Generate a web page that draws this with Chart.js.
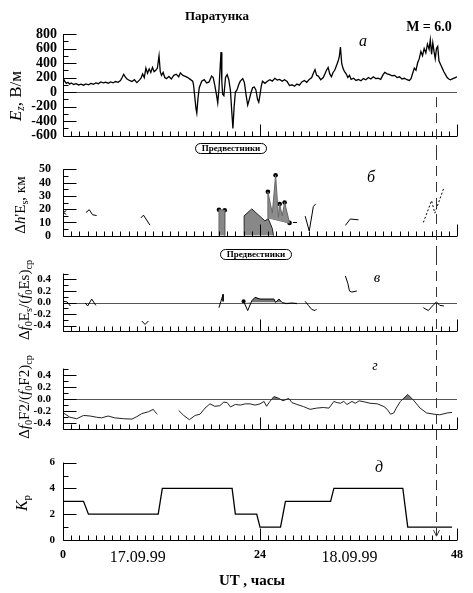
<!DOCTYPE html>
<html>
<head>
<meta charset="utf-8">
<script src="https://cdn.jsdelivr.net/npm/chart.js@4.4.1/dist/chart.umd.min.js"></script>
<style>
body{margin:0;background:#fff;}
#page{position:relative;width:473px;height:593px;overflow:hidden;background:#fff;font-family:'Liberation Serif','Times New Roman',serif;color:#000;}
canvas{position:absolute;left:0;}
.lbl{position:absolute;white-space:nowrap;transform:translate(-50%,-50%);line-height:1;z-index:2;}
.rot{transform:translate(-50%,-50%) rotate(-90deg);}
.lbl sub{font-size:68%;vertical-align:baseline;position:relative;top:0.3em;}
.oval{position:absolute;border:1px solid #000;border-radius:8px;font-weight:bold;font-size:9px;line-height:9px;text-align:center;background:#fff;box-sizing:border-box;z-index:2;}
</style>
</head>
<body>
<div id="page">
  <canvas id="cA" width="473" height="150" style="top:0px"></canvas>
  <canvas id="cB" width="473" height="105" style="top:150px"></canvas>
  <canvas id="cC" width="473" height="95" style="top:255px"></canvas>
  <canvas id="cD" width="473" height="98" style="top:350px"></canvas>
  <canvas id="cE" width="473" height="145" style="top:448px"></canvas>

  <div class="lbl" style="left:217px;top:15px;font-size:13px;font-weight:bold">Паратунка</div>
  <div class="lbl" style="left:429px;top:27px;font-size:14px;font-weight:bold">M = 6.0</div>

  <div class="lbl rot" style="left:15px;top:96px;font-size:17px"><i>E</i><sub><i>z</i></sub>, В/м</div>
  <div class="lbl rot" style="left:20px;top:205px;font-size:15px">Δ<i>h</i>'E<sub>s</sub>, км</div>
  <div class="lbl rot" style="left:24px;top:300px;font-size:15px">Δ<i>f</i><sub>0</sub>E<sub>s</sub>/(<i>f</i><sub>0</sub>Es)<sub>ср</sub></div>
  <div class="lbl rot" style="left:24px;top:397px;font-size:15px">Δ<i>f</i><sub>0</sub>F2/(<i>f</i><sub>0</sub>F2)<sub>ср</sub></div>
  <div class="lbl rot" style="left:22px;top:503px;font-size:16px"><i>K</i><sub>p</sub></div>

  <div class="lbl" style="left:363px;top:41px;font-size:16px;font-style:italic">а</div>
  <div class="lbl" style="left:371px;top:177px;font-size:16px;font-style:italic">б</div>
  <div class="lbl" style="left:377px;top:277px;font-size:15px;font-style:italic">в</div>
  <div class="lbl" style="left:375px;top:366px;font-size:14px;font-style:italic">г</div>
  <div class="lbl" style="left:379px;top:467px;font-size:16px;font-style:italic">д</div>

  <div class="oval" style="left:195px;top:143px;width:72px;height:11px">Предвестники</div>
  <div class="oval" style="left:220px;top:249px;width:72px;height:11px">Предвестники</div>

  <div class="lbl" style="left:252px;top:580px;font-size:15px;font-weight:bold">UT , часы</div>
</div>
<script>
// time axis: hours UT from 00 UT 17.09.99
const quakeHour = 45.4;
const bottomTickHours = [0, 9.1, 24, 34.9, 48];
const bottomTickLabels = ['0', '17.09.99', '24', '18.09.99', '48'];

// (a) Ez, V/m
const ezHours = [
  0,0.2,0.4,0.6,0.8,1.0,1.3,1.6,1.9,2.2,
  2.5,2.8,3.1,3.4,3.7,4.0,4.3,4.6,4.9,5.2,
  5.5,5.8,6.1,6.4,6.7,7.0,7.2,7.4,7.6,7.8,
  8.1,8.4,8.7,9.0,9.3,9.5,9.7,9.9,10.1,10.3,
  10.5,10.7,10.9,11.1,11.3,11.5,11.7,11.85,12.0,12.2,
  12.4,12.6,12.9,13.2,13.5,13.8,14.1,14.3,14.6,14.9,
  15.2,15.5,15.8,15.9,16.05,16.2,16.3,16.45,16.6,16.9,
  17.2,17.5,17.8,18.1,18.3,18.5,18.7,18.85,19.0,19.15,
  19.25,19.35,19.45,19.6,19.8,20.0,20.2,20.4,20.55,20.7,
  20.85,21.0,21.2,21.4,21.6,21.9,22.1,22.3,22.5,22.7,
  22.9,23.1,23.3,23.5,23.7,23.85,24.0,24.15,24.3,24.6,
  24.9,25.2,25.5,25.8,26.1,26.4,26.7,27.0,27.3,27.6,
  27.9,28.2,28.5,28.8,29.1,29.4,29.7,30.0,30.3,30.5,
  30.7,30.9,31.1,31.4,31.7,31.9,32.1,32.3,32.5,32.7,
  32.9,33.1,33.3,33.5,33.65,33.8,33.95,34.1,34.3,34.5,
  34.7,34.9,35.1,35.4,35.7,36.0,36.3,36.6,36.9,37.2,
  37.5,37.8,38.1,38.4,38.7,39.0,39.2,39.5,39.8,40.1,
  40.4,40.7,41.0,41.3,41.6,41.9,42.2,42.4,42.6,42.8,
  43.0,43.2,43.4,43.6,43.8,44.0,44.2,44.4,44.6,44.75,
  44.9,45.05,45.2,45.35,45.5,45.65,45.8,46.0,46.2,46.4,
  46.6,46.8,47.0,47.2,47.5,47.8,48.0
];
const ezValues = [
  200,150,120,135,110,125,105,115,98,110,
  95,112,100,118,108,125,115,140,128,135,
  122,140,128,145,135,160,200,245,205,180,
  160,145,170,130,165,190,250,200,330,260,
  320,270,340,280,300,330,500,280,230,270,
  200,185,215,180,230,245,210,265,230,215,
  200,175,150,100,-60,-230,-290,-80,60,150,
  170,125,140,220,200,90,-40,-150,40,350,
  550,150,-30,-50,200,240,170,20,-250,-500,
  -200,0,30,100,150,185,130,-40,-180,-100,
  -10,60,70,30,-100,-140,-40,80,150,120,
  150,170,150,190,165,175,150,170,145,90,
  100,80,110,95,140,160,135,175,200,260,
  310,230,220,170,200,250,300,340,250,210,
  270,300,360,420,480,620,400,330,280,250,
  200,230,175,190,160,175,155,185,170,200,
  180,210,185,190,175,240,270,250,240,225,
  230,200,210,180,190,170,160,185,260,330,
  300,400,460,560,500,600,540,660,590,720,
  520,680,560,460,600,630,430,380,330,280,
  240,200,180,170,185,200,210
];

// (b) delta h'Es, km  (null = no data)
const hesHours  = [0.4,0.05,0.4, 1.5, 2.8,3.2,3.6,4.1, 6, 9.5,9.8,10.6, 20, 28.0,28.5, 29, 29.5,30.0,30.5,30.8, 33, 34.4,35.0,36.0];
const hesValues = [19,17.5,16, null, 17.5,19.6,15.8,15.2, null, 13.5,15.5,8, null, 10,10, null, 14.8,3.6,22,24, null, 7.8,12.6,12];
const hesBarHours = [19.0,19.0,19.7,19.7];
const hesBarValues = [0,19.6,19.2,0];
const hesBlockHours = [22.07,22.07,23.0,24.6,25.0,25.5,25.65];
const hesBlockValues = [0,15,20.2,11.2,12.9,5.5,0];
const hesSpikeHours = [24.96,24.96,25.5,25.9,26.25,26.4,26.7,27.0,27.6];
const hesSpikeValues = [13.5,33,17,45.5,14,23.9,15,25,9.7];
const hesBaseHours = [24.96,27.6];
const hesBaseValues = [13.5,9.5];
const hesDotHours = [19.0,19.7,24.96,25.9,26.4,27.0,27.6];
const hesDotValues = [19.6,19.2,33,45.5,23.9,25,9.7];
const hesDottedHours = [43.9,44.9,45.3,46.4];
const hesDottedValues = [10,26.4,17,36];

// (c) delta f0Es/(f0Es)av
const fesHours  = [0.1,0.5,0.9, 1.8, 2.7,3.0,3.5,4.0, 6, 9.6,10.0,10.4, 15, 19.0,19.5,19.5, 29, 29.5,29.9,30.3,30.7,30.9, 32, 34.4,34.7,34.9,35.2,35.8, 40, 43.9,44.5,45.2,45.5,45.9,46.4];
const fesValues = [0.02,0.01,-0.06, null, -0.01,-0.06,0.06,-0.05, null, -0.32,-0.38,-0.32, null, -0.09,0.14,0.02, null, 0.02,-0.05,-0.12,-0.14,-0.11, null, 0.46,0.33,0.2,0.18,0.2, null, -0.09,-0.14,-0.03,0.01,-0.05,-0.06];
const fesPrecHours = [22.0,22.5,23.0,23.4,24.0,25.7,25.9,26.3,26.7,27.2,27.9,28.5];
const fesPrecValues = [0.02,-0.14,0.03,0.09,0.06,0.06,0.0,0.06,0.0,-0.02,-0.01,-0.02];

// (d) delta f0F2/(f0F2)av
const ff2Hours = [
  0.05,0.85,1.67,2.5,3.3,4.1,4.7,5.5,6.3,7.4,8.4,9.0,9.6,10.4,11.0,11.2,11.5,
  12.8,
  14.1,14.7,15.4,16.1,16.7,17.3,17.9,18.5,19.1,19.6,20.0,20.4,21.0,21.6,22.2,22.8,23.4,24.0,
  24.5,24.8,25.2,25.7,26.3,26.8,27.5,27.9,28.5,29.3,30.1,30.9,31.7,32.4,33.0,33.4,33.8,34.2,
  34.6,35.2,35.6,36.1,36.8,37.4,38.3,39.1,39.5,39.9,40.3,40.6,41.1,42.0,42.7,43.5,44.3,45.2,
  45.9,46.8,47.4
];
const ff2Values = [
  -0.23,-0.30,-0.325,-0.27,-0.28,-0.30,-0.31,-0.28,-0.31,-0.325,-0.33,-0.29,-0.24,-0.21,-0.17,-0.21,-0.25,
  null,
  -0.19,-0.27,-0.34,-0.27,-0.25,-0.15,-0.08,-0.12,-0.11,-0.05,-0.06,-0.13,-0.09,-0.10,-0.08,-0.08,-0.10,-0.08,
  -0.04,-0.12,-0.04,0.04,0.01,-0.03,0.01,-0.06,-0.09,-0.125,-0.17,-0.15,-0.14,-0.15,-0.04,-0.06,-0.07,-0.04,
  -0.09,-0.04,-0.07,-0.03,-0.05,-0.07,-0.08,-0.125,-0.17,-0.25,-0.23,-0.15,-0.04,0.075,-0.02,-0.15,-0.23,-0.25,
  -0.26,-0.23,-0.22
];

// (e) Kp
const kpHours = [0,2.5,3.1,11.6,12.1,20.6,21.0,23.6,24.0,26.5,27.1,32.6,33.0,41.4,42.0,47.4];
const kpValues = [3,3,2,2,4,4,2,2,1,1,3,3,4,4,1,1];

function pts(hs, vs) {
  return hs.map((h, i) => ({x: h, y: vs[i]}));
}

// axes, inward ticks, zero line and the dashed quake marker
const panelDecor = {
  id: 'panelDecor',
  beforeDatasetsDraw(chart, args, opts) {
    if (!opts.zero) return;
    const ctx = chart.ctx, a = chart.chartArea, y = chart.scales.y;
    const py = Math.round(y.getPixelForValue(0)) + 0.5;
    ctx.save();
    ctx.strokeStyle = '#555';
    ctx.lineWidth = 1;
    ctx.beginPath();
    ctx.moveTo(a.left, py);
    ctx.lineTo(a.right, py);
    ctx.stroke();
    ctx.restore();
  },
  afterDraw(chart, args, opts) {
    const ctx = chart.ctx, a = chart.chartArea;
    const x = chart.scales.x, y = chart.scales.y;
    ctx.save();
    ctx.strokeStyle = '#000';
    ctx.lineWidth = 1;
    ctx.beginPath();
    const left = Math.round(a.left) + 0.5, bottom = Math.round(a.bottom) + 0.5;
    ctx.moveTo(left, a.top);
    ctx.lineTo(left, bottom);
    ctx.lineTo(a.right, bottom);
    y.ticks.forEach(t => {
      const py = Math.round(y.getPixelForValue(t.value)) + 0.5;
      ctx.moveTo(left, py);
      ctx.lineTo(left + (t.label ? 13 : 5), py);
    });
    for (let h = 1; h <= 48; h++) {
      const px = Math.round(x.getPixelForValue(h)) + 0.5;
      ctx.moveTo(px, bottom);
      ctx.lineTo(px, bottom - (h % 24 === 0 ? 12 : 5));
    }
    ctx.stroke();

    if (opts.quake) {
      const q = opts.quake;
      const px = Math.round(x.getPixelForValue(quakeHour)) + 0.5;
      const y1 = q.from === 'top' ? 0 : y.getPixelForValue(q.from);
      const y2 = q.to === 'bottom' ? chart.height : y.getPixelForValue(q.to);
      ctx.strokeStyle = '#333';
      ctx.setLineDash([10, 6]);
      ctx.beginPath();
      ctx.moveTo(px, y1);
      ctx.lineTo(px, y2);
      ctx.stroke();
      ctx.setLineDash([]);
      if (q.arrow) {
        ctx.beginPath();
        ctx.moveTo(px - 3, y2 - 6);
        ctx.lineTo(px, y2);
        ctx.lineTo(px + 3, y2 - 6);
        ctx.stroke();
      }
    }
    ctx.restore();
  }
};
Chart.register(panelDecor);

const serif = 'Liberation Serif';

function panelOptions(o) {
  return {
    responsive: false,
    animation: false,
    layout: {padding: {top: o.padTop, right: 16, left: 0, bottom: 0}},
    plugins: {legend: {display: false}, tooltip: {enabled: false}, panelDecor: o.decor},
    scales: {
      x: {
        type: 'linear', min: 0, max: 48,
        grid: {display: false, drawTicks: false}, border: {display: false},
        ticks: {display: false},
        afterFit: s => { s.height = o.padBottom; }
      },
      y: {
        min: o.min, max: o.max,
        grid: {display: false, drawTicks: false}, border: {display: false},
        ticks: {
          stepSize: o.step, padding: o.labelPad, color: '#000', autoSkip: false,
          font: {family: serif, size: o.fontSize, weight: 'bold'},
          callback: o.label
        },
        afterFit: s => { s.width = 63; }
      }
    }
  };
}

function line(data, extra) {
  return Object.assign({
    data: data, borderColor: '#000', borderWidth: 1, pointRadius: 0,
    tension: 0, fill: false, spanGaps: false
  }, extra || {});
}

const gray = '#888888';

// (a)
new Chart(document.getElementById('cA'), {
  type: 'line',
  data: {datasets: [line(pts(ezHours, ezValues), {borderWidth: 1.3})]},
  options: panelOptions({
    padTop: 34, padBottom: 9, min: -600, max: 800, step: 100, labelPad: 6, fontSize: 14,
    label: v => (Math.round(v) % 200 === 0 ? String(v) : ''),
    decor: {zero: true, quake: {from: -70, to: 'bottom'}}
  })
});

// (b)
new Chart(document.getElementById('cB'), {
  type: 'line',
  data: {datasets: [
    line(pts(hesBarHours, hesBarValues), {borderColor: '#6a6a6a', fill: 'origin', backgroundColor: gray}),
    line(pts(hesBlockHours, hesBlockValues), {borderColor: '#222', fill: 'origin', backgroundColor: gray}),
    line(pts(hesSpikeHours, hesSpikeValues), {borderColor: '#666', fill: '+1', backgroundColor: '#8c8c8c'}),
    line(pts(hesBaseHours, hesBaseValues), {borderColor: '#666'}),
    line(pts(hesHours, hesValues)),
    line(pts(hesDottedHours, hesDottedValues), {borderDash: [2, 2]}),
    line(pts(hesDotHours, hesDotValues), {showLine: false, pointRadius: 2.3, pointBackgroundColor: '#000', pointBorderWidth: 0})
  ]},
  options: panelOptions({
    padTop: 16, padBottom: 10, min: 0, max: 50, step: 5, labelPad: 12, fontSize: 12,
    label: v => (Math.round(v) % 10 === 0 ? String(v) : ''),
    decor: {zero: false, quake: {from: 'top', to: 'bottom'}}
  })
});

const relLabel = v => {
  const k = Math.round(v * 10);
  return (k % 2 === 0 && Math.abs(k) < 5) ? (k / 10).toFixed(1) : '';
};

// (c)
new Chart(document.getElementById('cC'), {
  type: 'line',
  data: {datasets: [
    line(pts(fesPrecHours, fesPrecValues), {fill: {target: {value: 0}, above: '#777', below: 'rgba(0,0,0,0)'}}),
    line(pts(fesHours, fesValues)),
    line([{x: 22.0, y: 0.02}], {showLine: false, pointRadius: 2, pointBackgroundColor: '#000', pointBorderWidth: 0})
  ]},
  options: panelOptions({
    padTop: 8, padBottom: 9, min: -0.5, max: 0.5, step: 0.1, labelPad: 12, fontSize: 11,
    label: relLabel,
    decor: {zero: true, quake: {from: 'top', to: 'bottom'}}
  })
});

// (d)
new Chart(document.getElementById('cD'), {
  type: 'line',
  data: {datasets: [
    line(pts(ff2Hours, ff2Values), {borderColor: '#222', fill: {target: {value: 0}, above: '#777', below: 'rgba(0,0,0,0)'}})
  ]},
  options: panelOptions({
    padTop: 10, padBottom: 8, min: -0.5, max: 0.5, step: 0.1, labelPad: 12, fontSize: 11,
    label: relLabel,
    decor: {zero: true, quake: {from: 'top', to: 'bottom'}}
  })
});

// (e)
const optE = panelOptions({
  padTop: 14, padBottom: 53, min: 0, max: 6, step: 1, labelPad: 8, fontSize: 11,
  label: v => (Math.round(v) % 2 === 0 ? String(v) : ''),
  decor: {zero: false, quake: {from: 'top', to: 0.3, arrow: true}}
});
optE.scales.x.ticks = {
  display: true, autoSkip: false, maxRotation: 0, padding: 8, color: '#000',
  font: c => (c.index % 2 === 0
    ? {family: serif, size: 12, weight: 'bold'}
    : {family: serif, size: 16, weight: 'normal'}),
  callback: (v, i) => bottomTickLabels[i]
};
optE.scales.x.afterBuildTicks = s => { s.ticks = bottomTickHours.map(v => ({value: v})); };

new Chart(document.getElementById('cE'), {
  type: 'line',
  data: {datasets: [line(pts(kpHours, kpValues), {borderWidth: 1.3})]},
  options: optE
});
</script>
</body>
</html>
